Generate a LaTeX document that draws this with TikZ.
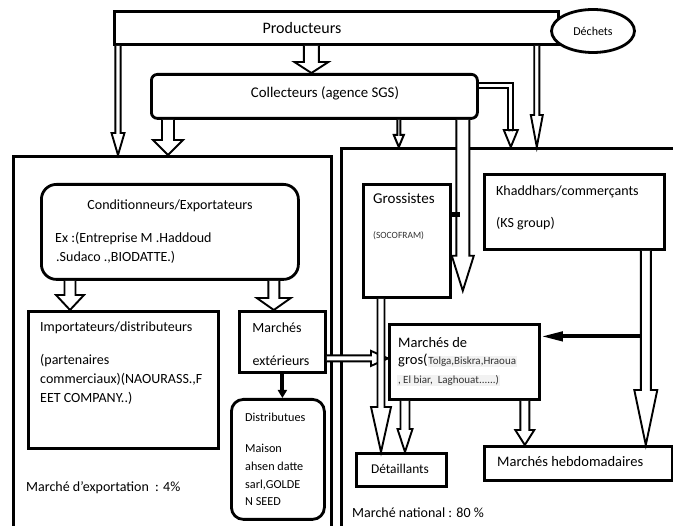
\documentclass[tikz,border=0pt]{standalone}
\usepackage{fontspec}
\setmainfont{Carlito}
\usetikzlibrary{calc,arrows.meta,shapes.geometric}

\tikzset{
  boite/.style={draw, line width=2.8pt, inner sep=0pt, anchor=north west},
  rboite/.style={boite, rounded corners=#1},
  txt/.style={inner sep=0pt, text height=0.7em, text depth=0.2em, yshift=-3pt},
  fleche/.style={draw, fill=white, line width=1.9pt, line join=miter},
  %hollow block arrow: half shaft, half head, head length
  block/.style n args={3}{to path={
      ($(\tikztostart)!#1pt!90:(\tikztotarget)$)
      -- ($($(\tikztotarget)!#3pt!(\tikztostart)$)!#1pt!-90:(\tikztostart)$)
      -- ($($(\tikztotarget)!#3pt!(\tikztostart)$)!#2pt!-90:(\tikztostart)$)
      -- (\tikztotarget)
      -- ($($(\tikztotarget)!#3pt!(\tikztostart)$)!#2pt!90:(\tikztostart)$)
      -- ($($(\tikztotarget)!#3pt!(\tikztostart)$)!#1pt!90:(\tikztostart)$)
      -- ($(\tikztostart)!#1pt!-90:(\tikztotarget)$)}},
  noir/.style={line width=4pt, -{Triangle[length=#1, width=9pt]}},
}
\newcommand{\petit}{\fontsize{11}{13}\selectfont}
\setlength{\fboxsep}{0.8pt}

\begin{document}
\begin{tikzpicture}[x=1pt, y=-1pt, font=\fontsize{14}{17}\selectfont]
\useasboundingbox (0,0) rectangle (673,526);

%the two markets
\node[boite, minimum width=318, minimum height=420] (exp) at (12,155) {};
\node[boite, minimum width=360, minimum height=420] (nat) at (340,147) {};

%top boxes
\node[boite, minimum width=444, minimum height=33] (prod) at (113,10) {};
\node[txt, font=\fontsize{16}{19}\selectfont] (prodtxt) at (302,28) {Producteurs};
\node[draw, line width=2.8pt, fill=white, ellipse, inner sep=0pt, minimum width=83, minimum height=43,
      font=\fontsize{12}{14}\selectfont] (dech) at (593,31) {Déchets};
\node[rboite=6pt, minimum width=326, minimum height=44] (coll) at (150,73) {};
\node[txt, font=\fontsize{14.8}{17}\selectfont] (colltxt) at (325,92) {Collecteurs (agence SGS)};

%export side
\node[rboite=15pt, minimum width=257, minimum height=95] (cond) at (40,183) {};
\node[txt] (condtxt) at (170,204) {Conditionneurs/Exportateurs};
\node[txt, anchor=west] (condex1) at (55,237) {Ex :(Entreprise M .Haddoud};
\node[txt, anchor=west] (condex2) at (56,256) {.Sudaco .,BIODATTE.)};

\node[boite, minimum width=190, minimum height=137] (imp) at (27,310) {};
\node[txt, anchor=west] (imptxt) at (40,326) {Importateurs/distributeurs};
\node[txt, anchor=west] (imp1) at (40,359) {(partenaires};
\node[txt, anchor=west] (imp2) at (40,378) {commerciaux)(NAOURASS.,F};
\node[txt, anchor=west] (imp3) at (40,397) {EET COMPANY..)};

\node[boite, minimum width=86, minimum height=61] (mext) at (238,310) {};
\node[txt] (mext1) at (277,327) {Marchés};
\node[txt] (mext2) at (281,360) {extérieurs};

\node[rboite=12pt, minimum width=93, minimum height=120] (dist) at (230,398) {};
\begin{scope}[every node/.style={txt, anchor=west, font=\fontsize{12.2}{14}\selectfont}]
\node (dist1) at (245,416) {Distributues};
\node (dist2) at (245,447) {Maison};
\node (dist3) at (245,465) {ahsen datte};
\node (dist4) at (245,483) {sarl,GOLDE};
\node (dist5) at (245,500) {N SEED};
\end{scope}

\node[txt, anchor=west] (exptxt) at (26,486) {Marché d’exportation~~: 4\%};

%national side
\node[boite, minimum width=87, minimum height=113] (gross) at (362,183) {};
\node[txt, anchor=west, font=\fontsize{15}{17}\selectfont] (grosstxt) at (373,198) {Grossistes};
\node[txt, anchor=west, font=\fontsize{9.5}{11}\selectfont, text=black!80] (socofram) at (373,233) {(SOCOFRAM)};

\node[boite, minimum width=180, minimum height=75] (khad) at (483,173) {};
\node[txt, anchor=west] (khad1) at (496,190) {Khaddhars/commerçants};
\node[txt, anchor=west] (khad2) at (496,222) {(KS group)};

\node[boite, minimum width=150, minimum height=75] (mgros) at (388,323) {};
\node[txt, anchor=west, font=\fontsize{14.5}{17}\selectfont] (mgros1) at (398,342) {Marchés de};
\node[txt, anchor=west, font=\fontsize{14.5}{17}\selectfont] (mgros2) at (398,359)
  {gros(\petit\color{black!80}\colorbox{black!5}{Tolga,Biskra,Hraoua}};
\node[txt, anchor=west, font=\petit, text=black!80] (mgros3) at (397,378)
  {\colorbox{black!5}{, El biar,~~Laghouat......)}};

\node[boite, minimum width=90, minimum height=33] (det) at (355,452) {};
\node[txt, font=\fontsize{13.4}{16}\selectfont] (dettxt) at (400,468) {Détaillants};
\node[boite, minimum width=188, minimum height=34] (hebdo) at (483,445) {};
\node[txt, anchor=west, font=\fontsize{14.5}{17}\selectfont] (hebdotxt) at (497,461) {Marchés hebdomadaires};

\node[txt, anchor=west] (nattxt) at (352,512) {Marché national~: 80~\%};

%arrow ends
\coordinate (p1) at ([xshift=5]prod.south west);
\coordinate (p1e) at (p1 |- exp.north);
\coordinate (p2) at ([xshift=-25]prod.south);
\coordinate (p2e) at (p2 |- coll.north);
\coordinate (p3) at ([xshift=-23]prod.south east);
\coordinate (p3e) at (p3 |- nat.north);
\coordinate (c1) at ([xshift=18]coll.south west);
\coordinate (c1e) at (c1 |- exp.north);
\coordinate (c2) at ([xshift=-80]coll.south east);
\coordinate (c2e) at (c2 |- nat.north);
\coordinate (c3) at ([xshift=-16]coll.south east);
\coordinate (c3e) at ([yshift=8]c3 |- gross.south);
\coordinate (c4) at ([yshift=11]coll.east);
\coordinate (c4k) at ($(c4)+(32,45)$);
\coordinate (c4e) at (c4k |- nat.north);
\coordinate (k1) at ([xshift=30]cond.south west);
\coordinate (k1e) at (k1 |- imp.north);
\coordinate (k2) at ([xshift=-26]cond.south east);
\coordinate (k2e) at (k2 |- mext.north);
\coordinate (m1) at ([yshift=-16.5]mext.east);
\coordinate (m1e) at (m1 -| mgros.west);
\coordinate (g1) at ([xshift=19]gross.south west);
\coordinate (g1e) at (g1 |- det.north);
\coordinate (h1) at ([xshift=-20]khad.south east);
\coordinate (h1e) at (h1 |- hebdo.north);
\coordinate (h2) at ($(h1 |- mgros.east)+(-6,-25.5)$);
\coordinate (h2e) at (h2 -| mgros.east);
\coordinate (r1) at ([xshift=17]mgros.south west);
\coordinate (r1e) at (r1 |- det.north);
\coordinate (r2) at ([xshift=-16]mgros.south east);
\coordinate (r2e) at (r2 |- hebdo.north);
\coordinate (tab) at ([yshift=26.5]gross.east);

%from producteurs
\draw[fleche] (p1) to[block={2.6}{6.5}{22}] (p1e);
\draw[fleche] (p2) to[block={7.5}{17}{11}] (p2e);
\draw[fleche] (p3) to[block={2.6}{6}{32}] (p3e);
%from collecteurs
\draw[fleche] (c1) to[block={6}{15}{15}] (c1e);
\draw[fleche, line width=2pt] (c2) to[block={1.5}{5}{12}] (c2e);
\draw[fleche] (c3) to[block={6.5}{11}{35}] (c3e);
\draw[line width=1.9pt, double distance=3pt] (c4) -| (c4k);
\draw[fleche] (c4k) to[block={2.45}{7}{17}] (c4e);
\draw[line width=5pt] (tab) -- ++(8,0);
%export side
\draw[fleche] (k1) to[block={5.5}{14}{15}] (k1e);
\draw[fleche] (k2) to[block={5.5}{17}{12}] (k2e);
\draw[noir=8pt] (mext.south) -- (mext.south |- dist.north);
\draw[fleche] (m1) to[block={3}{7.5}{17}] (m1e);
%national side
\draw[fleche] (g1) to[block={3.5}{10}{45}] (g1e);
\draw[fleche] (r1) to[block={4.5}{7.5}{23}] (r1e);
\draw[fleche] (r2) to[block={4.5}{9.5}{15}] (r2e);
\draw[fleche] (h1) to[block={5}{11.5}{55}] (h1e);
\draw[noir=22pt] (h2) -- (h2e);
\end{tikzpicture}
\end{document}
